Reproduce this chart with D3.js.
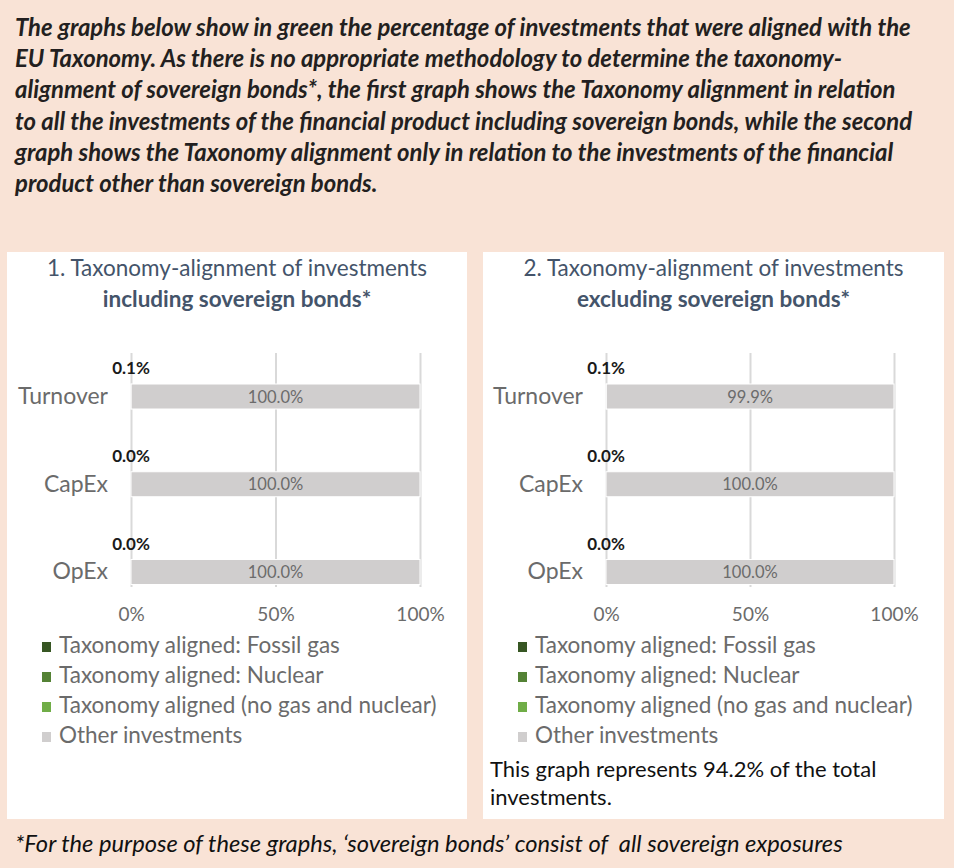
<!DOCTYPE html>
<html>
<head>
<meta charset="utf-8">
<script src="https://cdn.jsdelivr.net/npm/d3@7"></script>
<style>
  body { margin: 0; background: #f9e3d6; }
  svg { display: block; }
</style>
</head>
<body>
<div id="viz"></div>
<script>
// données
const categories = ['Turnover', 'CapEx', 'OpEx'];
const seriesNames = ['Taxonomy aligned: Fossil gas', 'Taxonomy aligned: Nuclear',
  'Taxonomy aligned (no gas and nuclear)', 'Other investments'];
const seriesColors = ['#375623', '#548235', '#70ad47', '#d0cece'];

// graphe 1 : avec obligations souveraines
const incFossil = [0, 0, 0];
const incNuclear = [0, 0, 0];
const incAligned = [0.05, 0.0, 0.0];
const incOther = [99.95, 100.0, 100.0];

// graphe 2 : sans obligations souveraines
const excFossil = [0, 0, 0];
const excNuclear = [0, 0, 0];
const excAligned = [0.1, 0.0, 0.0];
const excOther = [99.9, 100.0, 100.0];

const xTicks = [0, 50, 100];

const introLines = [
  'The graphs below show in green the percentage of investments that were aligned with the',
  'EU Taxonomy. As there is no appropriate methodology to determine the taxonomy-',
  'alignment of sovereign bonds*, the first graph shows the Taxonomy alignment in relation',
  'to all the investments of the financial product including sovereign bonds, while the second',
  'graph shows the Taxonomy alignment only in relation to the investments of the financial',
  'product other than sovereign bonds.'
];
const footnote = '*For the purpose of these graphs, \u2018sovereign bonds\u2019 consist of  all sovereign exposures';
const noteLines = ['This graph represents 94.2% of the total', 'investments.'];

const W = 954, H = 868;
const font = 'Lato, "Open Sans", sans-serif';
const fmt = d3.format('.1f');

const svg = d3.select('#viz').append('svg')
  .attr('width', W).attr('height', H)
  .style('font-family', font);

svg.append('rect').attr('width', W).attr('height', H).attr('fill', '#f9e3d6');

// texte d'introduction
svg.append('g').selectAll('text')
  .data(introLines)
  .join('text')
    .attr('x', 15)
    .attr('y', (d, i) => 36 + i * 31.2)
    .attr('fill', '#231f20')
    .style('font-size', '23.9px')
    .style('font-weight', 'bold')
    .style('font-style', 'italic')
    .style('white-space', 'pre')
    .text(d => d);

// panneaux blancs
const panels = [
  {x0: 7, x1: 467, title: '1. Taxonomy-alignment of investments', sub: 'including sovereign bonds*',
   rows: [incFossil, incNuclear, incAligned, incOther], plotX: [131, 420], note: false},
  {x0: 483, x1: 944, title: '2. Taxonomy-alignment of investments', sub: 'excluding sovereign bonds*',
   rows: [excFossil, excNuclear, excAligned, excOther], plotX: [606, 894], note: true}
];

panels.forEach(p => drawPanel(p));

function drawPanel(p) {
  const g = svg.append('g');
  g.append('rect')
    .attr('x', p.x0).attr('y', 252)
    .attr('width', p.x1 - p.x0).attr('height', 567)
    .attr('fill', '#ffffff');

  const cx = (p.x0 + p.x1) / 2;
  g.append('text').attr('x', cx).attr('y', 276)
    .attr('text-anchor', 'middle').attr('fill', '#44546a')
    .style('font-size', '22.5px').text(p.title);
  g.append('text').attr('x', cx).attr('y', 307)
    .attr('text-anchor', 'middle').attr('fill', '#44546a')
    .style('font-size', '22.5px').style('font-weight', 'bold').text(p.sub);

  // table pour d3.stack
  const table = categories.map((c, i) => {
    const o = {cat: c};
    seriesNames.forEach((s, j) => { o[s] = p.rows[j][i]; });
    return o;
  });
  const stacked = d3.stack().keys(seriesNames)(table);

  const x = d3.scaleLinear().domain([0, 100]).range(p.plotX);
  const y = d3.scalePoint().domain(categories).range([396.5, 572]);
  const barH = 25;
  const plotTop = 353, plotBottom = 587;

  // axe X + grille
  g.append('g')
    .attr('transform', `translate(0,${plotBottom})`)
    .call(d3.axisBottom(x).tickValues(xTicks).tickSize(-(plotBottom - plotTop)).tickFormat(d => d + '%'))
    .call(a => a.select('.domain').remove())
    .call(a => a.selectAll('line').attr('stroke', '#d9d9d9').attr('stroke-width', 2))
    .call(a => a.selectAll('text')
      .attr('y', 34).attr('dy', 0)
      .attr('fill', '#6b6b6b')
      .style('font-family', font).style('font-size', '19px'));

  // axe Y (catégories)
  g.append('g')
    .attr('transform', `translate(${p.plotX[0]},0)`)
    .call(d3.axisLeft(y).tickSize(0).tickPadding(23))
    .call(a => a.select('.domain').remove())
    .call(a => a.selectAll('text')
      .attr('dy', '0.3em')
      .attr('fill', '#6b6b6b')
      .style('font-family', font).style('font-size', '23px'));

  // barres empilées
  const layers = g.append('g').selectAll('g')
    .data(stacked)
    .join('g')
      .attr('fill', (d, i) => seriesColors[i]);

  layers.selectAll('rect')
    .data(d => d)
    .join('rect')
      .attr('x', d => x(d[0]))
      .attr('y', d => y(d.data.cat) - barH / 2)
      .attr('width', d => x(d[1]) - x(d[0]))
      .attr('height', barH)
      .attr('stroke', '#ffffff')
      .attr('stroke-width', 1);

  // étiquettes : série verte au-dessus, autres au centre
  const aligned = stacked[2];
  g.append('g').selectAll('text')
    .data(aligned)
    .join('text')
      .attr('x', d => x((d[0] + d[1]) / 2))
      .attr('y', d => y(d.data.cat) - barH / 2 - 10)
      .attr('text-anchor', 'middle')
      .attr('fill', '#1a1a1a')
      .style('font-size', '17px').style('font-weight', 'bold')
      .text(d => fmt(d[1] - d[0]) + '%');

  const other = stacked[3];
  g.append('g').selectAll('text')
    .data(other)
    .join('text')
      .attr('x', d => x((d[0] + d[1]) / 2))
      .attr('y', d => y(d.data.cat) + 6)
      .attr('text-anchor', 'middle')
      .attr('fill', '#6b6b6b')
      .style('font-size', '16.5px')
      .text(d => fmt(d[1] - d[0]) + '%');

  // légende
  const leg = g.append('g').attr('transform', `translate(${p.x0 + 35},0)`);
  const items = leg.selectAll('g')
    .data(seriesNames)
    .join('g')
      .attr('transform', (d, i) => `translate(0,${653 + i * 30})`);
  items.append('rect')
    .attr('x', 0).attr('y', -11).attr('width', 9).attr('height', 10)
    .attr('fill', (d, i) => seriesColors[i]);
  items.append('text')
    .attr('x', 17).attr('y', 0)
    .attr('fill', '#6b6b6b')
    .style('font-size', '22.5px')
    .text(d => d);

  if (p.note) {
    g.append('g').selectAll('text')
      .data(noteLines)
      .join('text')
        .attr('x', p.x0 + 7)
        .attr('y', (d, i) => 777 + i * 28)
        .attr('fill', '#111111')
        .style('font-size', '22px')
        .text(d => d);
  }
}

// note de bas de page
svg.append('text')
  .attr('x', 15).attr('y', 852)
  .attr('fill', '#111111')
  .style('font-size', '23.7px')
  .style('font-style', 'italic')
  .style('white-space', 'pre')
  .text(footnote);
</script>
</body>
</html>
